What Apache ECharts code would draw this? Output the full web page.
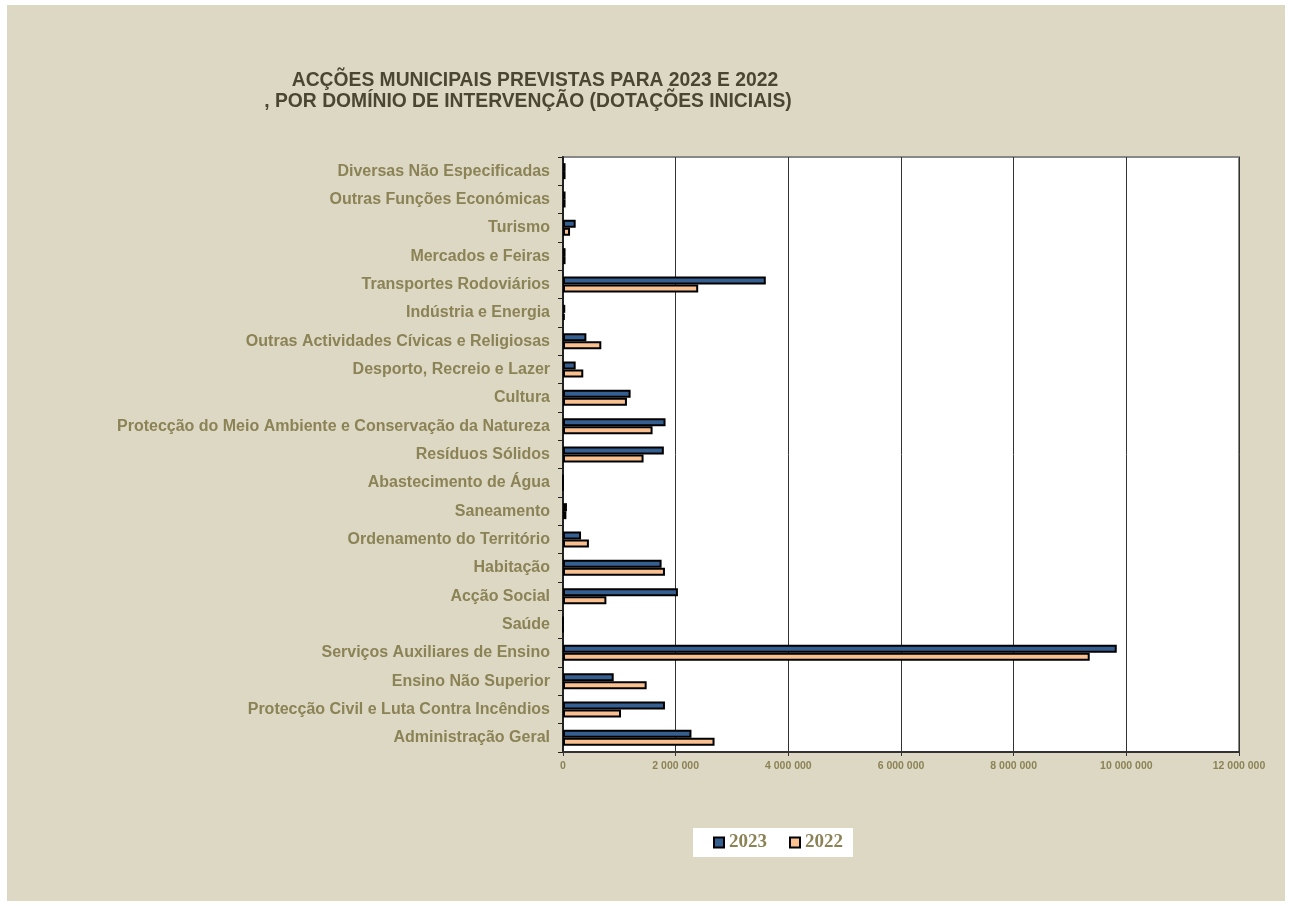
<!DOCTYPE html>
<html>
<head>
<meta charset="utf-8">
<title>Acções municipais previstas</title>
<script src="https://cdn.jsdelivr.net/npm/echarts@6/dist/echarts.min.js"></script>
<style>
  html, body { margin: 0; padding: 0; background: #fff; }
  #chart {
    position: absolute;
    left: 7px;
    top: 5px;
    width: 1278px;
    height: 896px;
    background: #ddd8c3;
  }
</style>
</head>
<body>
<div id="chart"></div>
<script>
// categorias (de baixo para cima, como no eixo)
var categories = [
  'Administração Geral',
  'Protecção Civil e Luta Contra Incêndios',
  'Ensino Não Superior',
  'Serviços Auxiliares de Ensino',
  'Saúde',
  'Acção Social',
  'Habitação',
  'Ordenamento do Território',
  'Saneamento',
  'Abastecimento de Água',
  'Resíduos Sólidos',
  'Protecção do Meio Ambiente e Conservação da Natureza',
  'Cultura',
  'Desporto, Recreio e Lazer',
  'Outras Actividades Cívicas e Religiosas',
  'Indústria e Energia',
  'Transportes Rodoviários',
  'Mercados e Feiras',
  'Turismo',
  'Outras Funções Económicas',
  'Diversas Não Especificadas'
];
var values2023 = [2280000, 1810000, 900000, 9830000, 0, 2040000, 1750000, 320000, 70000, 0,
                  1790000, 1820000, 1200000, 225000, 415000, 40000, 3600000, 45000, 225000, 45000, 45000];
var values2022 = [2690000, 1030000, 1485000, 9350000, 0, 770000, 1810000, 460000, 60000, 0,
                  1430000, 1590000, 1135000, 360000, 680000, 30000, 2400000, 45000, 125000, 45000, 45000];
var titleLines = [
  'ACÇÕES MUNICIPAIS PREVISTAS PARA 2023 E 2022',
  ', POR DOMÍNIO DE INTERVENÇÃO (DOTAÇÕES INICIAIS)'
];

var olive = '#8b8256';

function fmt(v) {
  return String(v).replace(/\B(?=(\d{3})+(?!\d))/g, ' ');
}

var titleStyle = {
  fontFamily: 'Liberation Sans, Arial',
  fontSize: 19.3,
  fontWeight: 'bold',
  color: '#4a4632'
};

var chart = echarts.init(document.getElementById('chart'));
chart.setOption({
  animation: false,
  title: [
    { text: titleLines[0], left: 523, top: 61, textAlign: 'center', textStyle: titleStyle },
    { text: titleLines[1], left: 516, top: 82, textAlign: 'center', textStyle: titleStyle }
  ],
  legend: {
    data: ['2023', '2022'],
    left: 686,
    top: 823,
    backgroundColor: '#fff',
    padding: [5, 10, 5, 20],
    itemWidth: 10,
    itemHeight: 10,
    itemGap: 22,
    icon: 'rect',
    textStyle: {
      fontFamily: 'Liberation Serif, Times New Roman',
      fontSize: 19,
      fontWeight: 'bold',
      color: olive
    }
  },
  grid: {
    left: 556,
    top: 152,
    width: 676,
    height: 595,
    show: true,
    backgroundColor: '#fff',
    borderColor: '#888',
    borderWidth: 2
  },
  xAxis: {
    type: 'value',
    min: 0,
    max: 12000000,
    interval: 2000000,
    axisLine: { show: true, lineStyle: { color: '#333', width: 2 } },
    axisTick: { show: true, length: 4, lineStyle: { color: '#333' } },
    splitLine: { show: true, lineStyle: { color: '#333', width: 1 } },
    axisLabel: {
      margin: 9,
      fontFamily: 'Liberation Sans, Arial',
      fontSize: 10.5,
      fontWeight: 'bold',
      color: olive,
      formatter: function (v) { return fmt(v); }
    }
  },
  yAxis: {
    type: 'category',
    data: categories,
    axisLine: { show: true, lineStyle: { color: '#222', width: 2 } },
    axisTick: { show: true, length: 5, lineStyle: { color: '#222' } },
    axisLabel: {
      margin: 13,
      fontFamily: 'Liberation Sans, Arial',
      fontSize: 16,
      fontWeight: 'bold',
      color: olive
    }
  },
  series: [
    {
      name: '2023',
      type: 'bar',
      data: values2023,
      barWidth: 8,
      barGap: '0%',
      itemStyle: { color: '#365f91', borderColor: '#000', borderWidth: 2 }
    },
    {
      name: '2022',
      type: 'bar',
      data: values2022,
      barWidth: 8,
      barGap: '0%',
      itemStyle: { color: '#fac090', borderColor: '#000', borderWidth: 2 }
    }
  ]
});
</script>
</body>
</html>
